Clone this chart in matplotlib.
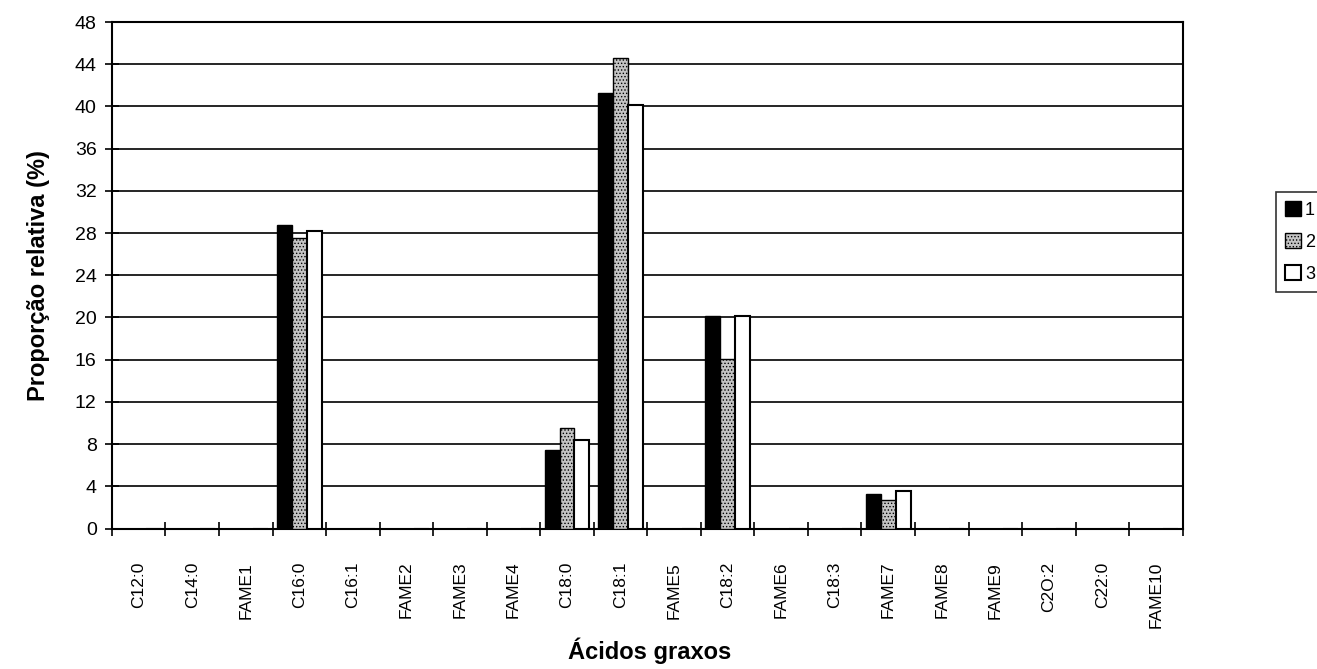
import matplotlib
matplotlib.use("Agg")
import matplotlib.pyplot as plt
import numpy as np

plt.rcParams['font.family'] = ['Liberation Sans', 'DejaVu Sans']
plt.rcParams['hatch.linewidth'] = 0.6

categories = ["C12:0", "C14:0", "FAME1", "C16:0", "C16:1", "FAME2", "FAME3", "FAME4",
              "C18:0", "C18:1", "FAME5", "C18:2", "FAME6", "C18:3", "FAME7", "FAME8",
              "FAME9", "C2O:2", "C22:0", "FAME10"]
serie1 = [0, 0, 0, 28.8, 0, 0, 0, 0, 7.4, 41.3, 0, 20.1, 0, 0, 3.3, 0, 0, 0, 0, 0]
serie2 = [0, 0, 0, 27.5, 0, 0, 0, 0, 9.5, 44.6, 0, 16.1, 0, 0, 2.7, 0, 0, 0, 0, 0]
serie3 = [0, 0, 0, 28.2, 0, 0, 0, 0, 8.4, 40.1, 0, 20.1, 0, 0, 3.6, 0, 0, 0, 0, 0]
series_names = ["1", "2", "3"]
yticks = list(range(0, 49, 4))

fig = plt.figure(figsize=(13.17, 6.69), dpi=100)
ax = fig.add_axes([0.085, 0.21, 0.813, 0.757])

x = np.arange(len(categories))
w = 0.28
ax.bar(x - w, serie1, w, color='black', edgecolor='black', linewidth=1.0, label=series_names[0], zorder=3)
ax.bar(x, serie2, w, color='#c4c4c4', edgecolor='black', hatch='.....', linewidth=1.0, label=series_names[1], zorder=3)
ax.bar(x + w, serie3, w, color='white', edgecolor='black', linewidth=1.5, label=series_names[2], zorder=3)

ax.set_xlim(-0.5, len(categories) - 0.5)
ax.set_ylim(0, 48)
ax.set_yticks(yticks)
ax.set_yticklabels([str(t) for t in yticks], fontsize=14)
ax.yaxis.grid(True, color='black', linewidth=1.2, zorder=0)
ax.tick_params(axis='y', direction='inout', length=10, width=1.2, pad=6)

ax.set_xticks(x)
ax.set_xticklabels(categories, rotation=90, fontsize=12.5)
ax.set_xticks(np.arange(-0.5, len(categories), 1.0), minor=True)
ax.tick_params(axis='x', which='major', length=0, pad=24)
ax.tick_params(axis='x', which='minor', direction='inout', length=10, width=1.2)

for s in ax.spines.values():
    s.set_linewidth(1.5)
    s.set_color('black')

ax.set_ylabel("Proporção relativa (%)", fontsize=17, fontweight='bold', labelpad=18)
fig.text(0.493, 0.028, "Ácidos graxos", fontsize=17, fontweight='bold', ha='center', va='center')

leg = fig.legend(loc='center left', bbox_to_anchor=(0.962, 0.638), fontsize=13,
                 frameon=True, fancybox=False, edgecolor='black', handlelength=0.9,
                 handleheight=0.9, handletextpad=0.2, labelspacing=0.8, borderpad=0.5)
leg.get_frame().set_linewidth(1.2)

fig.savefig("out.png", dpi=100)
